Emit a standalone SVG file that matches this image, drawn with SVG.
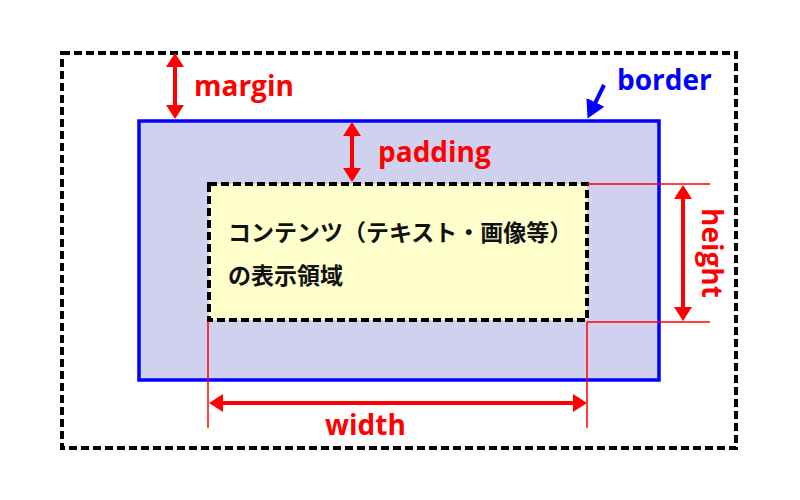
<svg xmlns="http://www.w3.org/2000/svg" width="800" height="500" viewBox="0 0 800 500">
<defs>
<style>
.lbl{font-family:"Open Sans","Noto Sans","DejaVu Sans",sans-serif;font-weight:bold;font-size:28px;fill:#ff0000}
.jp{font-family:"Noto Sans CJK JP","Noto Sans",sans-serif;font-weight:bold;font-size:23px;fill:#111}
.guide{stroke:#ff0000;stroke-width:1.5;fill:none}
.arr{stroke:#ff0000;stroke-width:4;fill:none}
</style>
<marker id="ah" viewBox="0 0 14 18" markerWidth="14" markerHeight="18" refX="6" refY="9" orient="auto-start-reverse" markerUnits="userSpaceOnUse">
<path d="M0,0 L14,9 L0,18 z" fill="#ff0000"/>
</marker>
<marker id="ahb" viewBox="0 0 18 20" markerWidth="18" markerHeight="20" refX="6" refY="10" orient="auto" markerUnits="userSpaceOnUse">
<path d="M0,0 L18,10 L0,20 z" fill="#0000ff"/>
</marker>
</defs>
<rect width="800" height="500" fill="#ffffff"/>
<g id="margin-box">
<rect x="62" y="53" width="674" height="395" fill="none" stroke="#000" stroke-width="4" stroke-dasharray="8,4"/>
</g>
<g id="border-box">
<rect x="139" y="121" width="520" height="259" fill="#d0d0ef" stroke="#0000ff" stroke-width="3.5"/>
</g>
<g id="content-box">
<rect x="209" y="184" width="378" height="136" fill="#ffffcc" stroke="#000" stroke-width="4" stroke-dasharray="8,4"/>
<text class="jp" x="228" y="241">コンテンツ（テキスト・画像等）</text>
<text class="jp" x="228" y="284">の表示領域</text>
</g>
<g id="connectors">
<line class="guide" x1="587" y1="184" x2="710" y2="184"/>
<line class="guide" x1="587" y1="322" x2="710" y2="322"/>
<line class="guide" x1="208" y1="322" x2="208" y2="428"/>
<line class="guide" x1="587" y1="322" x2="587" y2="428"/>
<line class="arr" x1="175" y1="61" x2="175" y2="111" marker-start="url(#ah)" marker-end="url(#ah)"/>
<line class="arr" x1="352" y1="130" x2="352" y2="174" marker-start="url(#ah)" marker-end="url(#ah)"/>
<line class="arr" x1="683" y1="193" x2="683" y2="313" marker-start="url(#ah)" marker-end="url(#ah)"/>
<line class="arr" x1="217" y1="403" x2="579" y2="403" marker-start="url(#ah)" marker-end="url(#ah)"/>
<line x1="604" y1="85" x2="592.8" y2="107.8" stroke="#0000ff" stroke-width="4" marker-end="url(#ahb)"/>
</g>
<g id="labels">
<text class="lbl" x="194" y="96">margin</text>
<text class="lbl" x="378" y="162">padding</text>
<text class="lbl" x="325" y="435">width</text>
<text class="lbl" x="617" y="90" style="fill:#0000ff">border</text>
<text class="lbl" transform="translate(702,208) rotate(90)">height</text>
</g>
</svg>
